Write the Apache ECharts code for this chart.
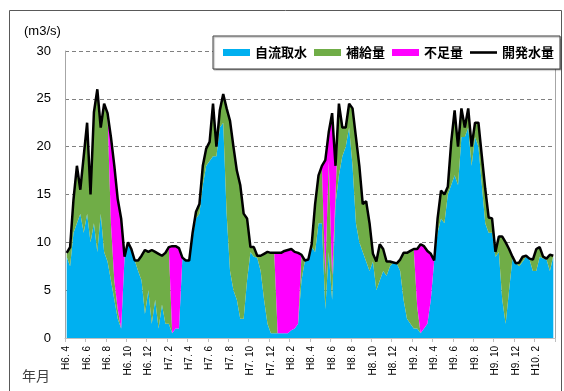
<!DOCTYPE html>
<html><head><meta charset="utf-8">
<script src="https://cdn.jsdelivr.net/npm/echarts@6/dist/echarts.min.js"></script>
<style>html,body{margin:0;padding:0;background:#fff}#c{width:564px;height:391px}</style>
</head><body><div id="c"></div>
<script>
// x-axis tick labels (every 2 months)
const tickLabels = ['H6. 4','H6. 6','H6. 8','H6. 10','H6. 12','H7. 2','H7. 4','H7. 6','H7. 8','H7. 10','H7. 12','H8. 2','H8. 4','H8. 6','H8. 8','H8. 10','H8. 12','H9. 2','H9. 4','H9. 6','H9. 8','H9. 10','H9. 12','H10. 2'];
const seriesNames = ['自流取水','補給量','不足量','開発水量'];
const junNames = ['上旬','中旬','下旬'];
// 10-day (旬) values from H6.4 上旬 to H10.3 下旬, m3/s
const kaihatsu = [
 8.9, 9.5, 14.5, 18, 15.5, 19, 22.5, 15, 23.6, 26, 22, 24.5,
 23.5, 21, 18, 14.5, 12.5, 8.5, 10, 9.3, 8.1, 8.1, 8.6, 9.2,
 9.0, 9.2, 9.0, 8.8, 8.6, 8.9, 9.5, 9.6, 9.6, 9.4, 8.4, 8.1,
 8.1, 11, 13.2, 14, 18, 19.8, 20.5, 24.5, 20, 23.8, 25.5, 24,
 22.7, 20, 17.5, 16, 13, 12.5, 9.5, 9.5, 8.6, 8.6, 8.8, 9.0,
 8.9, 8.9, 8.9, 8.9, 9.1, 9.2, 9.3, 9.0, 8.9, 8.7, 8.1, 8.2,
 9.8, 14, 17, 18, 18.6, 21.5, 23.5, 18, 24.5, 22, 22, 24.5,
 24, 21, 18, 14, 14.3, 12, 8.8, 8.0, 9.8, 9.3, 8.0, 8.0,
 7.9, 7.8, 8.2, 8.9, 8.9, 9.1, 9.3, 9.3, 9.8, 9.6, 9.1, 8.8,
 8.1, 12.5, 15.4, 15, 15.8, 20.5, 23.8, 20, 24, 22, 24, 20,
 22.5, 22.5, 19, 15.6, 12.6, 12.5, 9, 10.6, 10.6, 10, 9.3, 8.5,
 7.8, 7.9, 8.5, 8.6, 8.3, 8.2, 9.3, 9.5, 8.5, 8.3, 8.7, 8.6
];
const jiryu = [
 8.5, 7.5, 11, 12, 13, 11, 13, 10, 12, 9, 13, 9,
 8, 6, 4, 2, 1, 8.5, 10, 9.3, 8.1, 7, 6, 2.5,
 5, 1.5, 4, 1, 3.5, 1.5, 1.5, 0.5, 1, 1, 8.4, 8.1,
 8.1, 10.5, 12.5, 13, 16, 18, 18.5, 19, 19, 22, 22.5, 13,
 7, 5, 4, 2, 2, 6, 9, 8.5, 8.4, 7, 4, 1.5,
 0.5, 0.5, 0.5, 0.5, 0.5, 0.5, 0.8, 1, 1.5, 6, 8.1, 8.2,
 9.5, 9, 12, 12, 3, 9, 4, 14, 17, 19, 20, 22,
 18, 12, 10, 9, 8, 7, 8, 5, 6, 7, 6.5, 7.5,
 7.9, 7.8, 7, 4, 2, 1.5, 1, 1, 0.5, 1, 1.5, 4,
 8.1, 11, 12.5, 12, 15, 16, 17, 16, 21, 21, 22, 18,
 21, 20, 16, 12, 11, 11, 8.5, 9, 4, 1.5, 5, 8.3,
 7.8, 7.5, 8, 8.5, 8.2, 7, 7, 8.5, 8.3, 8.2, 7, 8.5
];
const hokyu = [
 0.4, 2.0, 3.5, 6, 2.5, 8, 9.5, 5, 11.6, 17, 9, 15.5,
 15.5, 6, 2, 1, 0, 0, 0, 0, 0, 1.1, 2.6, 6.7,
 4, 7.7, 5, 7.8, 5.1, 7.4, 8, 0, 0, 0, 0, 0,
 0, 0.5, 0.7, 1, 2, 1.8, 2, 5.5, 1, 1.8, 3, 11,
 15.7, 15, 13.5, 14, 11, 6.5, 0.5, 1, 0.2, 1.6, 4.8, 7.5,
 8.4, 8.4, 0, 0, 0, 0, 0, 0, 0, 2.7, 0, 0,
 0.3, 5, 5, 6, 3.6, 9.5, 2.5, 1, 7.5, 3, 2, 2.5,
 6, 9, 8, 5, 6.3, 5, 0.8, 3, 3.8, 2.3, 1.5, 0.5,
 0, 0, 1.2, 4.9, 6.9, 7.6, 8.3, 2.3, 0, 0, 0, 0,
 0, 1.5, 2.9, 3, 0.8, 4.5, 6.8, 4, 3, 1, 2, 2,
 1.5, 2.5, 3, 3.6, 1.6, 1.5, 0.5, 1.6, 6.6, 8.5, 4.3, 0.2,
 0, 0.4, 0.5, 0.1, 0.1, 1.2, 2.3, 1, 0.2, 0.1, 1.7, 0.1
];
const fusoku = [
 0, 0, 0, 0, 0, 0, 0, 0, 0, 0, 0, 0,
 0, 9, 12, 11.5, 11.5, 0, 0, 0, 0, 0, 0, 0,
 0, 0, 0, 0, 0, 0, 0, 9.1, 8.6, 8.4, 0, 0,
 0, 0, 0, 0, 0, 0, 0, 0, 0, 0, 0, 0,
 0, 0, 0, 0, 0, 0, 0, 0, 0, 0, 0, 0,
 0, 0, 8.4, 8.4, 8.6, 8.7, 8.5, 8.0, 7.4, 0, 0, 0,
 0, 0, 0, 0, 12, 3, 17, 3, 0, 0, 0, 0,
 0, 0, 0, 0, 0, 0, 0, 0, 0, 0, 0, 0,
 0, 0, 0, 0, 0, 0, 0, 6, 9.3, 8.6, 7.6, 4.8,
 0, 0, 0, 0, 0, 0, 0, 0, 0, 0, 0, 0,
 0, 0, 0, 0, 0, 0, 0, 0, 0, 0, 0, 0,
 0, 0, 0, 0, 0, 0, 0, 0, 0, 0, 0, 0
];

// category names: one per 10-day period, H6.4上旬 ... H10.3下旬
const categories = [];
for (let m = 0; m < 48; m++) {
  const y = 6 + Math.floor((m + 3) / 12), mo = (m + 3) % 12 + 1;
  for (let j = 0; j < 3; j++) categories.push('H' + y + '.' + mo + junNames[j]);
}
const jpFont = '"Noto Sans CJK JP", sans-serif';

const chart = echarts.init(document.getElementById('c'), null, {renderer: 'canvas'});
const areaSeries = (name, data, color) => ({
  name, type: 'line', stack: 'w', data, color,
  symbol: 'none', showSymbol: false, lineStyle: {width: 0},
  areaStyle: {color, opacity: 1}, z: 2, silent: true
});
chart.setOption({
  animation: false,
  grid: {left: 65, right: 9, top: 51, bottom: 53},
  legend: {
    left: 213, top: 36, padding: [10, 6, 10, 10], itemGap: 7,
    itemWidth: 27, itemHeight: 7,
    backgroundColor: '#fff', borderColor: '#404040', borderWidth: 1,
    shadowColor: 'rgba(0,0,0,0.35)', shadowOffsetX: 1, shadowOffsetY: 1, shadowBlur: 1,
    textStyle: {fontFamily: jpFont, fontSize: 13, fontWeight: 'bold', color: '#000'},
    data: [
      {name: seriesNames[0], icon: 'rect'},
      {name: seriesNames[1], icon: 'rect'},
      {name: seriesNames[2], icon: 'rect'},
      {name: seriesNames[3], icon: 'path://M0,0L27,0L27,2.6L0,2.6Z', itemStyle: {color: '#000'}}
    ]
  },
  xAxis: {
    type: 'category', data: categories, boundaryGap: true,
    axisLine: {show: true, lineStyle: {color: '#BFBFBF'}},
    axisTick: {show: true, length: 4, interval: 5, lineStyle: {color: '#BFBFBF'}},
    splitLine: {show: false},
    axisLabel: {
      rotate: 90, margin: 8, fontSize: 10, color: '#000', interval: 5,
      fontFamily: '"Liberation Sans Narrow", "Liberation Sans", sans-serif',
      formatter: (v, i) => tickLabels[i / 6] || ''
    }
  },
  yAxis: [{
    type: 'value', min: 0, max: 30, interval: 5,
    axisLine: {show: true, lineStyle: {color: '#A6A6A6'}},
    axisTick: {show: false},
    splitLine: {show: true, lineStyle: {color: '#808080', type: [4, 3], width: 1}},
    axisLabel: {fontSize: 13, color: '#000', margin: 14, fontFamily: '"Liberation Sans", sans-serif'}
  }, {
    type: 'value', min: 0, max: 30, interval: 5, position: 'right',
    axisLine: {show: true, lineStyle: {color: '#A6A6A6'}},
    axisTick: {show: false}, axisLabel: {show: false}, splitLine: {show: false}
  }],
  series: [
    areaSeries(seriesNames[0], jiryu, '#00B0F0'),
    areaSeries(seriesNames[1], hokyu, '#70AD47'),
    areaSeries(seriesNames[2], fusoku, '#FF00FF'),
    {
      name: seriesNames[3], type: 'line', data: kaihatsu, color: '#000',
      symbol: 'none', showSymbol: false, lineStyle: {width: 2.5, color: '#000'}, z: 5, silent: true
    }
  ],
  graphic: [
    {type: 'rect', shape: {x: 9.5, y: 10.5, width: 552, height: 400}, style: {fill: 'none', stroke: '#595959', lineWidth: 1}, silent: true, z: -1},
    {type: 'text', left: 24, top: 25, style: {text: '(m3/s)', font: '13px "Liberation Sans", sans-serif', fill: '#000'}},
    {type: 'text', left: 22, top: 369, style: {text: '年月', font: '14px ' + jpFont, fill: '#404040'}}
  ]
});
</script>
</body></html>
